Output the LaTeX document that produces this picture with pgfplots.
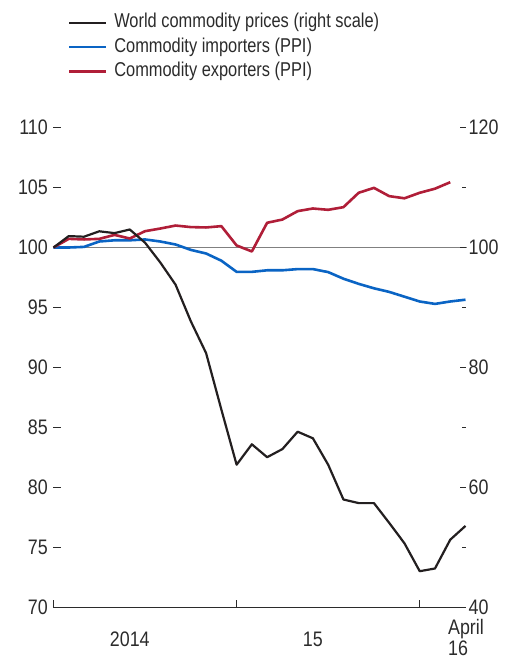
\documentclass[border=0pt]{standalone}
\usepackage{fontspec}
\setmainfont{Liberation Sans}[FakeStretch=0.85]
\newfontfamily\legfont{Liberation Sans}[FakeStretch=0.82]
\usepackage{pgfplots}
\usepackage{pgfplotstable}
\pgfplotsset{compat=1.18}
\definecolor{cblack}{HTML}{231F20}
\definecolor{cblue}{HTML}{0A64C4}
\definecolor{cred}{HTML}{B01E38}
\definecolor{ctext}{HTML}{2B2B2B}
\definecolor{cgrid}{HTML}{808080}

\pgfplotstableread{
m v
0 100
1 101.9
2 101.8
3 102.7
4 102.4
5 103
6 100.8
7 97.5
8 93.8
9 87.7
10 82.4
11 73
12 63.8
13 67.2
14 65.05
15 66.4
16 69.3
17 68.2
18 63.8
19 58
20 57.4
21 57.4
22 54.1
23 50.7
24 46.05
25 46.5
26 51.3
27 53.6
}\world

\pgfplotstableread{
m v
0 100
1 100
2 100.05
3 100.5
4 100.6
5 100.6
6 100.67
7 100.5
8 100.25
9 99.8
10 99.5
11 98.9
12 97.97
13 97.97
14 98.1
15 98.1
16 98.2
17 98.2
18 97.95
19 97.4
20 96.97
21 96.6
22 96.3
23 95.9
24 95.5
25 95.3
26 95.5
27 95.65
}\importers

\pgfplotstableread{
m v
0 100
1 100.72
2 100.67
3 100.72
4 101.05
5 100.75
6 101.36
7 101.58
8 101.83
9 101.7
10 101.67
11 101.78
12 100.17
13 99.67
14 102.06
15 102.33
16 103.03
17 103.25
18 103.14
19 103.36
20 104.56
21 104.97
22 104.28
23 104.1
24 104.56
25 104.9
26 105.44
}\exporters

\begin{document}
\begin{tikzpicture}
\path[use as bounding box] (-53.5pt,-51.5pt) rectangle (450.5pt,607.5pt);
\begin{axis}[
  at={(0pt,0pt)}, anchor=south west,
  scale only axis, width=412pt, height=480pt,
  xmin=0, xmax=27, ymin=70, ymax=110,
  clip=false,
  axis x line*=bottom, axis y line*=left,
  y axis line style={draw=none},
  x axis line style={ctext, line width=1pt},
  xtick={0,12,24}, xticklabels={},
  ytick={70,75,...,110},
  tick align=inside, major tick length=7pt,
  every tick/.style={ctext, line width=1pt},
  /pgf/number format/assume math mode=true,
  yticklabel style={font=\fontsize{21}{21}\selectfont, text=ctext, anchor=east, inner sep=0pt, xshift=-5.5pt},
  legend cell align=left,
  legend image code/.code={\draw[#1] (0pt,0pt) -- (37pt,0pt);},
  legend style={at={(0,1)}, anchor=north west, xshift=14.5pt, yshift=114pt,
    draw=none, fill=none, inner sep=0pt, row sep=6.5pt, column sep=6.5pt,
    font=\legfont\fontsize{20}{20}\selectfont, text=ctext,
    nodes={inner sep=0pt, text height=14pt, text depth=4pt}},
]
\addlegendimage{cblack, line width=2.2pt}
\addlegendentry{World commodity prices (right scale)}
\draw[cgrid, line width=1pt] (axis cs:0,100) -- (axis cs:27.1,100);
\addplot[cblue, line width=2.6pt, line join=round] table[x=m, y=v] {\importers};
\addlegendentry{Commodity importers (PPI)}
\addplot[cred, line width=2.6pt, line join=round] table[x=m, y=v] {\exporters};
\addlegendentry{Commodity exporters (PPI)}
\node[anchor=base, text=ctext, font=\fontsize{21}{21}\selectfont] at (axis cs:5,70) [yshift=-38.5pt] {2014};
\node[anchor=base, text=ctext, font=\fontsize{21}{21}\selectfont] at (axis cs:17,70) [yshift=-38.5pt] {15};
\node[anchor=base west, inner sep=0pt, text=ctext, font=\fontsize{21}{21}\selectfont] at (axis cs:25.85,70) [yshift=-26.5pt] {April};
\node[anchor=base west, inner sep=0pt, text=ctext, font=\fontsize{21}{21}\selectfont] at (axis cs:25.85,70) [yshift=-47.5pt] {16};
\end{axis}
\begin{axis}[
  at={(0pt,0pt)}, anchor=south west,
  scale only axis, width=412pt, height=480pt,
  xmin=0, xmax=27, ymin=40, ymax=120,
  clip=false,
  axis x line=none, axis y line*=right,
  y axis line style={draw=none},
  ytick={40,60,...,120}, minor ytick={50,70,...,110},
  tick align=inside, major tick length=6pt, minor tick length=4pt,
  every tick/.style={ctext, line width=1pt},
  /pgf/number format/assume math mode=true,
  yticklabel style={font=\fontsize{21}{21}\selectfont, text=ctext, anchor=west, inner sep=0pt, xshift=3pt},
]
\addplot[cblack, line width=2.2pt, line join=round] table[x=m, y=v] {\world};
\end{axis}
\end{tikzpicture}
\end{document}
